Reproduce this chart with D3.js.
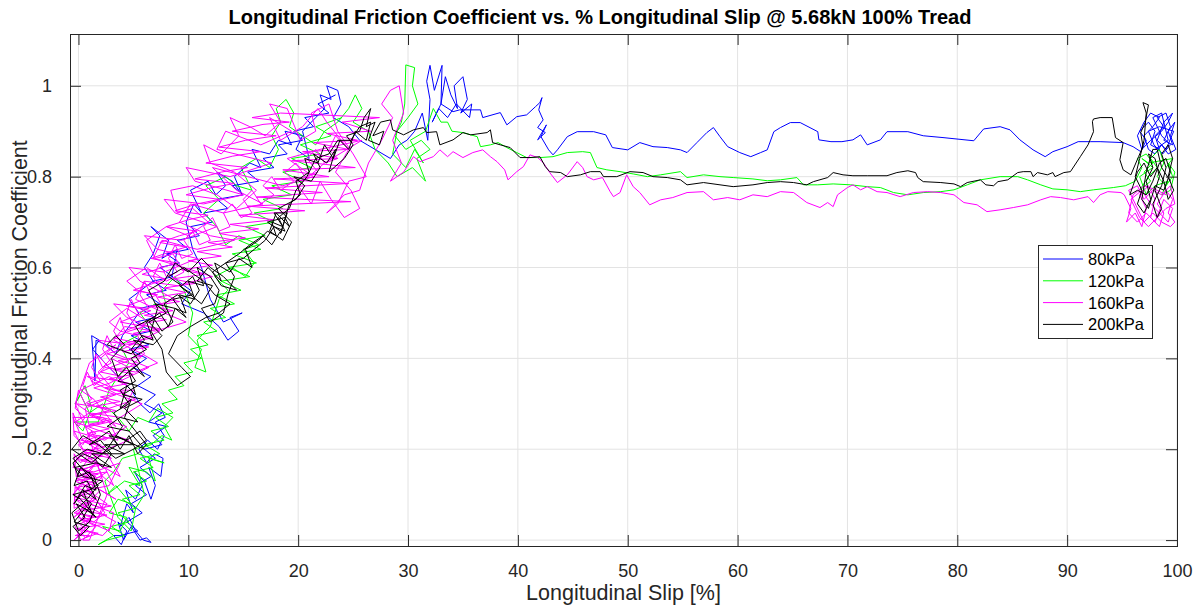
<!DOCTYPE html>
<html>
<head>
<meta charset="utf-8">
<script src="https://cdn.jsdelivr.net/npm/d3@7"></script>
<style>
  body { margin: 0; background: #fff; }
  text { font-family: "Liberation Sans", Arial, sans-serif; }
</style>
</head>
<body>
<div id="app"></div>
<script>
// legend / series
const seriesNames = ["80kPa", "120kPa", "160kPa", "200kPa"];
const seriesColors = ["#0000ff", "#00ff00", "#ff00ff", "#000000"];
const xTickValues = [0, 10, 20, 30, 40, 50, 60, 70, 80, 90, 100];
const yTickValues = [0, 0.2, 0.4, 0.6, 0.8, 1];

// [slip %, friction coefficient]
const kPa80 = [
  [23.4,0.98],[21.8,0.96],[22.8,0.94],[20.6,0.93],[21.4,0.91],[19.6,0.9],[20.4,0.88],[18.2,0.87],[19.0,0.85],[16.8,0.84],
  [17.8,0.82],[15.4,0.81],[16.4,0.79],[14.0,0.78],[15.0,0.76],[12.6,0.75],[13.6,0.73],[11.4,0.72],[12.2,0.7],[10.2,0.69],
  [11.0,0.67],[9.0,0.66],[10.0,0.64],[8.0,0.63],[9.2,0.61],[7.4,0.6],[8.6,0.58],[6.8,0.57],[8.0,0.55],[6.2,0.54],
  [7.4,0.52],[5.6,0.51],[7.0,0.49],[5.2,0.48],[6.6,0.46],[4.8,0.45],[6.4,0.43],[4.6,0.42],[6.2,0.4],[5.0,0.38],
  [6.6,0.36],[5.4,0.34],[7.0,0.32],[6.0,0.3],[7.6,0.28],[6.4,0.26],[8.0,0.25],[6.8,0.23],[7.6,0.21],[6.0,0.2],
  [7.0,0.18],[5.6,0.16],[6.6,0.14],[5.2,0.12],[6.2,0.1],[4.8,0.08],[5.8,0.06],[4.4,0.04],[5.4,0.02],[3.8,0.01],
  [3.2,0.01],[3.9,-0.01],[4.4,0.02],[3.6,0.04],[4.1,0.0],[4.8,0.03],[5.6,0.0],[6.2,0.005],[6.6,-0.005],[5.9,0.0],
  [5.2,0.02],[4.6,0.05],[3.8,0.03],[4.4,0.08],[5.0,0.06],[4.3,0.11],[5.2,0.09],[5.8,0.12],[5.1,0.15],[6.0,0.13],
  [6.6,0.09],[7.0,0.12],[6.4,0.16],[7.5,0.14],[7.7,0.18],[6.9,0.19],[6.2,0.17],[5.5,0.2],[6.3,0.22],[7.2,0.2],
  [7.8,0.23],[7.0,0.26],[7.9,0.27],[7.3,0.3],[6.5,0.28],[5.6,0.3],[4.8,0.33],[3.6,0.36],[2.4,0.39],[1.3,0.42],
  [1.9,0.44],[1.2,0.45],[1.5,0.35],[1.6,0.44],[2.5,0.43],[3.4,0.41],[4.0,0.45],[5.5,0.5],[4.6,0.53],[6.8,0.57],
  [6.0,0.6],[6.8,0.63],[7.4,0.67],[6.6,0.69],[8.2,0.66],[7.6,0.62],[9.0,0.64],[8.5,0.58],[10.2,0.55],[9.4,0.52],
  [11.4,0.5],[12.8,0.47],[13.6,0.44],[14.6,0.46],[13.8,0.49],[14.9,0.5],[13.2,0.48],[12.0,0.53],[11.2,0.6],[10.4,0.64],
  [9.8,0.7],[10.5,0.74],[11.2,0.72],[10.2,0.77],[11.8,0.79],[12.5,0.76],[13.4,0.78],[12.6,0.81],[14.0,0.79],[14.9,0.76],
  [14.2,0.8],[15.6,0.83],[16.6,0.82],[15.8,0.86],[17.4,0.85],[18.2,0.88],[19.4,0.87],[18.8,0.9],[20.4,0.89],[19.8,0.86],
  [21.0,0.84],[20.4,0.9],[21.6,0.93],[22.4,0.95],[22.0,0.98],[23.0,0.97],[22.6,1.0],[23.6,0.99],[23.9,0.96],[23.2,0.93],
  [24.6,0.91],[25.6,0.88],[27.0,0.86],[28.4,0.84],[29.2,0.87],[29.9,0.88],[30.6,0.9],[31.3,0.94],[31.8,0.88],[32.0,0.97],
  [31.7,1.01],[32.0,1.045],[32.4,0.99],[33.1,1.045],[33.0,0.96],[33.4,1.02],[33.9,0.98],[34.5,0.95],[34.2,1.0],[35.0,1.02],
  [35.4,0.97],[34.8,0.94],[35.8,0.96],[35.6,0.93],[34.4,0.96],[33.6,0.93],[32.8,0.95],[32.2,0.92],[33.0,0.96],[34.1,0.943],
  [34.7,0.947],[36.6,0.947],[36.8,0.93],[38.4,0.941],[39.0,0.914],[39.9,0.932],[40.8,0.936],[41.6,0.954],[42.0,0.963],[42.2,0.974],
  [41.9,0.947],[42.3,0.925],[41.8,0.908],[42.5,0.897],[41.8,0.881],[42.6,0.914],[42.1,0.888],[42.8,0.859],[43.2,0.848],[43.6,0.859],
  [44.5,0.888],[45.4,0.899],[46.9,0.899],[48.0,0.892],[48.6,0.864],[50.0,0.859],[51.1,0.875],[52.3,0.866],[53.6,0.864],[54.8,0.859],
  [55.4,0.853],[56.3,0.875],[57.2,0.897],[57.8,0.908],[58.4,0.888],[59.1,0.866],[60.2,0.853],[61.2,0.844],[62.1,0.853],[62.7,0.859],
  [63.3,0.899],[63.9,0.908],[64.8,0.919],[65.7,0.919],[67.3,0.899],[67.4,0.881],[68.5,0.877],[69.5,0.877],[70.5,0.881],[71.2,0.892],
  [71.8,0.87],[73.0,0.881],[73.6,0.899],[75.5,0.899],[76.9,0.89],[78.7,0.886],[81.5,0.879],[82.4,0.905],[83.9,0.91],[84.8,0.903],
  [85.7,0.881],[86.9,0.859],[88.0,0.844],[88.7,0.855],[90.0,0.866],[91.0,0.877],[92.1,0.877],[93.0,0.877],[95.1,0.875],[96.0,0.866],
  [96.7,0.855],[97.2,0.88],[96.6,0.9],[97.4,0.92],[98.0,0.9],[97.6,0.87],[98.4,0.86],[98.0,0.89],[98.8,0.91],[98.2,0.93],
  [99.0,0.94],[99.4,0.91],[98.8,0.88],[99.6,0.87],[99.2,0.9],[99.8,0.92],[99.4,0.89],[99.9,0.86],[99.2,0.85],[98.6,0.87],
  [98.0,0.85],[97.4,0.86],[97.0,0.89],[97.8,0.91],[98.4,0.93],[97.6,0.94],[97.0,0.92],[96.4,0.89],[96.8,0.86],[97.6,0.88],
  [98.6,0.9],[99.2,0.92],[99.6,0.94],[98.8,0.92],[98.2,0.88],[99.0,0.86],[99.7,0.9],[98.4,0.91],[97.4,0.9],[97.9,0.87],
  [98.7,0.85],[99.4,0.87],[98.6,0.89],[97.8,0.93],[98.6,0.94],[99.2,0.88],[98.0,0.86]
];

const kPa120 = [
  [24.0,0.93],[21.6,0.91],[23.0,0.89],[20.2,0.87],[22.0,0.85],[19.4,0.84],[21.2,0.82],[18.6,0.81],[20.4,0.79],[17.6,0.78],
  [19.4,0.76],[16.8,0.75],[18.6,0.73],[16.0,0.72],[17.8,0.7],[15.2,0.69],[17.0,0.67],[14.6,0.66],[16.6,0.64],[14.0,0.63],
  [16.2,0.61],[13.6,0.6],[15.6,0.58],[13.0,0.57],[14.8,0.55],[12.6,0.54],[14.2,0.52],[12.0,0.51],[13.4,0.49],[11.4,0.48],
  [12.6,0.46],[10.8,0.45],[11.8,0.43],[10.2,0.42],[11.2,0.4],[9.6,0.39],[10.4,0.37],[8.8,0.36],[9.6,0.34],[8.2,0.33],
  [9.0,0.31],[7.6,0.3],[8.6,0.28],[7.0,0.27],[8.2,0.25],[6.6,0.24],[7.8,0.22],[6.0,0.21],[7.4,0.19],[5.6,0.18],
  [6.8,0.16],[5.0,0.15],[6.2,0.13],[4.6,0.12],[5.6,0.1],[4.0,0.09],[5.2,0.07],[3.6,0.06],[4.6,0.04],[3.0,0.03],
  [4.2,0.01],[2.6,0.0],
  [1.8,-0.01],[3.2,0.01],[2.2,0.03],[3.8,0.02],[4.4,0.05],[2.8,0.06],[3.6,0.09],[4.8,0.08],[3.4,0.12],[2.6,0.1],
  [4.2,0.13],[5.6,0.12],[4.6,0.16],[6.2,0.15],[7.0,0.13],[6.4,0.18],[7.8,0.17],[5.4,0.19],[4.0,0.18],[3.2,0.15],
  [2.4,0.13],[3.6,0.05],[4.8,0.02],[5.2,0.07],[6.0,0.1],[5.0,0.2],[6.6,0.21],[7.6,0.23],[8.5,0.22],[7.8,0.25],
  [8.6,0.27],[7.2,0.29],[6.4,0.26],[5.4,0.27],[4.6,0.24],[3.6,0.27],[2.2,0.3],[1.0,0.28],[0.2,0.32],[-0.3,0.3],
  [0.6,0.34],[1.2,0.29],[0.4,0.24],[-0.4,0.26],[1.8,0.26],[2.8,0.33],[3.6,0.36],[4.6,0.39],[3.8,0.43],[5.4,0.45],
  [6.2,0.48],[5.6,0.5],[7.0,0.52],[8.2,0.5],[7.6,0.55],[8.8,0.58],[9.6,0.55],[10.4,0.5],[10.0,0.45],[11.2,0.42],
  [10.6,0.38],[11.6,0.37],[10.8,0.44],[12.0,0.47],[12.8,0.53],[13.6,0.55],[12.4,0.58],[14.0,0.6],[15.2,0.58],[16.0,0.61],
  [15.0,0.64],[16.4,0.65],[14.6,0.67],[13.4,0.65],[12.6,0.69],[11.4,0.72],[12.8,0.75],[11.6,0.78],[13.4,0.8],[14.4,0.78],
  [15.8,0.77],[14.8,0.82],[16.2,0.84],[17.4,0.82],[18.2,0.86],[17.6,0.89],[18.4,0.92],[18.0,0.95],[18.9,0.97],[19.6,0.94],
  [19.2,0.91],[20.4,0.89],[21.6,0.87],[22.4,0.9],[23.6,0.92],[24.6,0.95],[25.2,0.98],[25.8,0.95],[25.0,0.92],[26.4,0.9],
  [27.0,0.86],[28.2,0.83],[29.0,0.8],[30.4,0.82],[31.6,0.79],[30.8,0.84],[32.0,0.86],[31.2,0.88],[29.8,0.86],[28.8,0.89],
  [29.4,0.92],[29.7,0.96],[29.8,1.046],[30.6,1.04],[30.4,1.0],[30.9,0.96],[30.0,0.93],[29.0,0.9],[28.6,0.85],[29.8,0.82],
  [30.6,0.86],[31.4,0.83],[30.2,0.88],[31.6,0.9],[32.3,0.95],[33.0,0.92],[33.6,0.92],[34.0,0.9],[35.0,0.897],[36.3,0.888],
  [36.6,0.866],[37.5,0.87],[38.2,0.875],[39.0,0.864],[39.9,0.853],[40.8,0.842],[42.0,0.842],[43.2,0.844],[44.5,0.853],[45.9,0.855],
  [46.6,0.853],[47.2,0.82],[48.1,0.815],[49.3,0.811],[50.5,0.806],[51.8,0.8],[53.0,0.804],[54.8,0.811],[55.4,0.798],[56.9,0.804],
  [58.4,0.8],[59.6,0.798],[61.4,0.795],[62.7,0.791],[63.9,0.793],[65.4,0.798],[66.0,0.782],[67.3,0.782],[68.7,0.784],[70.3,0.782],
  [71.8,0.778],[73.0,0.776],[74.2,0.765],[75.5,0.76],[76.9,0.765],[78.5,0.767],[79.7,0.771],[80.9,0.782],[82.1,0.793],[83.9,0.8],
  [85.5,0.8],[86.4,0.793],[87.6,0.782],[88.7,0.773],[90.0,0.771],[91.2,0.767],[92.4,0.771],[94.2,0.776],[95.3,0.78],[96.2,0.79],
  [96.8,0.82],[96.4,0.84],[97.2,0.85],[97.8,0.83],[97.0,0.81],[97.6,0.79],[96.6,0.77],[97.4,0.8],[98.2,0.82],[97.6,0.84],
  [98.4,0.86],[98.8,0.83],[98.2,0.8],[99.0,0.78],[99.6,0.8],[99.2,0.83],[99.8,0.81],[99.4,0.77],[98.6,0.76],[99.2,0.79],
  [98.0,0.78],[97.2,0.76],[96.6,0.8],[97.8,0.82],[96.8,0.84],[97.4,0.83],[99.6,0.84],[99.0,0.82]
];

const kPa160 = [
  [24.2,0.87],[23.4,0.89],[22.8,0.86],[23.6,0.84],[22.4,0.83],[21.6,0.86],[20.8,0.84],[21.8,0.81],[20.6,0.8],[19.8,0.83],
  [18.8,0.81],[19.6,0.79],[18.4,0.77],[17.6,0.8],[16.8,0.78],[17.8,0.76],[16.6,0.74],[15.8,0.77],[15.0,0.75],[15.8,0.72],
  [14.8,0.71],[14.0,0.74],[13.2,0.72],[13.8,0.69],[12.8,0.68],[12.2,0.71],[11.4,0.69],[12.0,0.66],[11.0,0.65],[10.4,0.68],
  [9.6,0.66],[10.4,0.63],[9.4,0.62],[8.8,0.65],[8.2,0.62],[9.0,0.59],[8.0,0.58],[7.4,0.61],[6.8,0.58],[7.6,0.55],
  [6.6,0.54],[6.0,0.57],[5.6,0.54],[6.4,0.51],[5.4,0.5],[4.8,0.53],[4.4,0.5],[5.2,0.47],[4.2,0.46],[3.8,0.49],
  [3.2,0.46],[4.0,0.43],[3.2,0.42],[2.6,0.45],[2.2,0.42],[3.0,0.39],[2.2,0.38],[1.6,0.41],[1.2,0.38],[2.0,0.35],
  [1.4,0.34],[0.8,0.37],[0.4,0.34],[1.2,0.31],[0.6,0.3],[0.0,0.33],[-0.3,0.29],[0.6,0.27],[0.0,0.25],[-0.5,0.28],
  [-0.4,0.23],[0.4,0.21],[1.2,0.24],[1.8,0.21],[1.0,0.19],[0.2,0.17],[-0.4,0.19],[-0.2,0.14],[0.8,0.15],[1.6,0.17],
  [2.2,0.14],[1.4,0.12],[0.4,0.1],[-0.3,0.12],[-0.4,0.07],[0.6,0.08],[1.6,0.09],[2.4,0.06],[1.4,0.04],[0.4,0.05],
  [-0.3,0.03],[0.2,0.0],[1.0,0.01],
  [-0.3,0.01],[0.9,0.02],[0.1,0.035],[1.3,0.05],[-0.4,0.06],[0.7,0.075],[1.5,0.09],[0.0,0.1],[1.1,0.115],[-0.3,0.13],
  [1.6,0.14],[0.5,0.155],[1.8,0.17],[-0.2,0.18],[1.2,0.195],[2.0,0.21],[0.2,0.22],[1.6,0.235],[0.6,0.25],[2.4,0.26],
  [1.0,0.275],[2.8,0.285],[0.8,0.3],[2.2,0.31],[3.4,0.32],[1.4,0.335],[2.8,0.345],[4.0,0.36],[2.0,0.37],[3.4,0.385],
  [4.6,0.395],[2.6,0.41],[4.0,0.42],[5.2,0.435],[3.2,0.445],[4.6,0.46],[6.0,0.47],[3.8,0.48],[5.4,0.495],[6.6,0.505],
  [4.4,0.515],[6.0,0.53],[7.2,0.54],[5.0,0.55],[6.8,0.565],[8.0,0.575],[5.8,0.585],[7.6,0.6],[9.0,0.61],[6.6,0.62],
  [8.4,0.635],[9.8,0.645],[7.4,0.655],[9.2,0.67],[10.8,0.68],[8.0,0.69],[10.0,0.705],[11.8,0.715],[8.8,0.725],[10.8,0.74],
  [12.8,0.75],[9.8,0.76],[12.0,0.775],[14.2,0.785],[10.6,0.795],[13.0,0.81],[15.4,0.82],[11.6,0.83],[14.0,0.845],[16.6,0.855],
  [12.8,0.865],[15.2,0.88],[18.0,0.89],[14.0,0.9],[16.8,0.915],[19.2,0.92],[15.8,0.93],[18.4,0.94],
  [27.4,0.93],[24.0,0.92],[26.6,0.9],[22.6,0.895],[25.4,0.88],[21.4,0.875],[24.6,0.86],[20.4,0.855],[23.6,0.84],[19.4,0.835],
  [25.2,0.82],[18.6,0.815],[22.8,0.8],[17.8,0.795],[24.6,0.785],[17.0,0.775],[22.2,0.765],[16.2,0.755],[24.8,0.745],[15.4,0.735],
  [20.6,0.725],[14.6,0.715],[17.8,0.705],[13.8,0.695],[16.4,0.685],[12.8,0.675],[15.2,0.665],[11.8,0.655],[14.0,0.645],[10.8,0.635],
  [13.0,0.625],[10.0,0.615],[12.2,0.605],[9.4,0.595],[11.4,0.585],[8.6,0.575],[10.6,0.565],[7.8,0.555],[9.8,0.545],[7.2,0.535],
  [9.2,0.525],[6.6,0.515],[8.6,0.505],[6.0,0.495],[8.0,0.485],[5.4,0.475],[7.4,0.465],[5.0,0.455],[6.8,0.445],[4.4,0.435],
  [6.4,0.425],[4.0,0.415],[5.8,0.405],[3.6,0.395],[5.4,0.385],[3.2,0.375],[5.0,0.365],[2.8,0.355],[4.6,0.345],[2.4,0.335],
  [4.2,0.325],[2.0,0.315],[3.8,0.305],[1.6,0.295],[3.4,0.285],[1.2,0.275],[3.0,0.265],[1.0,0.255],[2.8,0.245],[0.8,0.235],
  [2.6,0.225],[0.6,0.215],[2.4,0.205],[0.4,0.195],[2.2,0.185],[0.2,0.175],[2.0,0.165],[0.0,0.155],[1.8,0.145],[-0.2,0.135],
  [1.6,0.125],[-0.3,0.115],[1.4,0.105],[-0.4,0.095],[1.2,0.085],[3.0,0.075],[0.4,0.065],[2.6,0.055],[0.2,0.045],[2.4,0.035],
  [-0.2,0.025],[1.8,0.015],[0.6,0.005],
  [0.2,0.02],[1.4,0.06],[-0.3,0.09],[2.2,0.07],[0.6,0.12],[2.6,0.15],[-0.2,0.14],[1.2,0.19],[3.0,0.18],[0.4,0.22],
  [-0.5,0.27],[2.2,0.27],[3.4,0.25],[1.4,0.31],[0.2,0.33],[2.8,0.36],[4.4,0.34],[2.0,0.4],[3.4,0.43],[1.0,0.39],
  [-0.3,0.3],[0.8,0.24],[2.6,0.1],[1.0,0.0],
  [0.4,0.0],[1.6,0.03],[0.0,0.05],[2.8,0.02],[3.2,0.06],[1.0,0.08],[-0.4,0.05],[2.0,0.11],[3.4,0.09],[0.6,0.13],
  [-0.5,0.1],[1.6,0.17],[3.8,0.14],[2.6,0.19],[0.4,0.2],[-0.4,0.24],[2.4,0.22],[4.4,0.25],[1.6,0.27],[-0.2,0.3],
  [2.8,0.29],[5.2,0.31],[2.6,0.34],[0.8,0.36],[3.8,0.35],[6.4,0.38],[3.4,0.41],[1.8,0.44],[4.8,0.43],[7.4,0.46],
  [4.4,0.49],[3.2,0.52],[6.2,0.51],[8.8,0.53],[5.6,0.57],[4.6,0.6],[7.8,0.59],[10.8,0.62],[7.2,0.64],[6.0,0.67],
  [9.4,0.66],[12.6,0.69],[8.8,0.72],[7.8,0.75],[11.4,0.74],[15.0,0.76],[10.6,0.79],[9.8,0.82],[13.8,0.8],[17.6,0.83],
  [12.6,0.86],[13.4,0.9],[16.6,0.87],[19.4,0.9],[17.4,0.93],[18.4,0.88],[20.4,0.91],[21.8,0.95],[22.6,0.92],[24.6,0.86],
  [23.4,0.81],[24.8,0.77],[25.6,0.73],[24.2,0.71],[23.0,0.75],[22.0,0.79],[21.2,0.74],[20.0,0.78],[22.4,0.83],[25.8,0.88],
  [22.0,0.86],[19.0,0.84],[21.4,0.8],[18.6,0.78],[15.4,0.8],[12.2,0.82],[14.4,0.77],[16.8,0.74],[13.2,0.72],[10.2,0.74],
  [9.2,0.7],[12.0,0.67],[14.2,0.66],[10.8,0.64],[7.6,0.66],[6.8,0.62],[9.6,0.6],[12.2,0.58],[9.0,0.56],[6.0,0.57],
  [5.2,0.53],[7.8,0.5],[9.8,0.48],[7.0,0.46],[4.2,0.47],[3.2,0.44],[5.8,0.41],[7.2,0.39],[5.2,0.37],[2.4,0.38],
  [1.2,0.35],[3.6,0.32],[5.8,0.3],[3.8,0.27],[1.0,0.28],[-0.3,0.26],[2.0,0.24],[4.6,0.22],[2.6,0.2],[0.2,0.19],
  [-0.5,0.16],[1.4,0.15],[3.8,0.17],[2.8,0.12],[0.8,0.11],[-0.5,0.08],[1.2,0.07],[3.4,0.04],[2.2,0.01],[0.6,0.02],
  [-0.4,0.0],[0.8,0.03],[-0.2,0.06],[1.8,0.05],[2.6,0.08],[1.4,0.1],[0.2,0.13],[2.2,0.14],[3.2,0.12],[2.4,0.16],
  [1.0,0.18],[0.0,0.21],[1.8,0.23],[3.6,0.22],[2.8,0.26],[1.0,0.25],[0.6,0.29],[2.4,0.31],[4.2,0.29],[5.0,0.33],
  [3.2,0.33],[1.8,0.37],[3.0,0.4],[4.6,0.38],[6.0,0.41],[5.4,0.45],[3.8,0.46],[2.8,0.48],[4.4,0.51],[6.4,0.48],
  [8.0,0.5],[7.0,0.54],[5.4,0.55],[4.4,0.57],[6.2,0.6],[8.0,0.57],[9.6,0.59],[8.6,0.63],[7.0,0.62],[6.2,0.66],
  [8.0,0.69],[10.0,0.67],[11.8,0.7],[10.4,0.73],[9.0,0.72],[8.4,0.77],[10.4,0.78],[12.6,0.76],[14.4,0.73],[16.2,0.77],
  [14.2,0.81],[12.0,0.83],[11.4,0.87],[13.0,0.85],[14.6,0.89],[13.8,0.93],[15.6,0.91],[17.0,0.89],[18.4,0.92],[17.4,0.96],
  [19.0,0.95],[20.2,0.88],[21.6,0.9],[21.2,0.94],[22.8,0.96],[23.6,0.9],[25.0,0.85],[26.2,0.8],[24.6,0.79],[23.6,0.74],
  [22.6,0.72],[24.2,0.76],[25.6,0.77],[26.4,0.83],[27.6,0.88],[28.6,0.93],[27.6,0.96],[28.4,0.99],[29.2,1.0],[29.6,0.94],
  [28.6,0.88],[29.4,0.83],[28.4,0.79],[29.6,0.81],[30.5,0.844],[31.1,0.833],[32.3,0.844],[32.9,0.859],[33.6,0.844],[34.1,0.855],
  [35.0,0.842],[35.9,0.853],[36.8,0.859],[37.5,0.844],[38.1,0.833],[38.8,0.815],[39.1,0.793],[39.9,0.811],[40.5,0.822],[41.1,0.848],
  [41.8,0.842],[42.3,0.831],[42.9,0.809],[43.6,0.787],[44.5,0.804],[45.4,0.833],[45.9,0.82],[46.3,0.8],[46.9,0.793],[47.7,0.798],
  [48.4,0.767],[48.7,0.756],[49.3,0.765],[49.9,0.804],[50.5,0.778],[51.1,0.765],[52.0,0.738],[53.0,0.749],[54.1,0.754],[55.4,0.765],
  [56.9,0.767],[57.8,0.749],[59.1,0.754],[60.2,0.749],[61.4,0.76],[62.7,0.756],[63.9,0.767],[65.1,0.765],[66.3,0.743],[67.5,0.732],
  [68.2,0.743],[68.7,0.734],[69.1,0.76],[70.0,0.776],[70.5,0.782],[71.2,0.771],[71.8,0.778],[72.7,0.767],[73.6,0.765],[74.8,0.756],
  [76.0,0.765],[77.3,0.767],[78.5,0.765],[79.7,0.76],[80.6,0.743],[81.8,0.738],[82.7,0.723],[83.9,0.727],[85.1,0.732],[86.4,0.738],
  [87.6,0.749],[88.5,0.756],[89.4,0.754],[90.6,0.749],[91.9,0.756],[92.4,0.743],[93.0,0.76],[93.7,0.767],[94.9,0.765],[95.2,0.76],
  [95.8,0.73],[95.4,0.7],[96.2,0.72],[96.8,0.69],[97.2,0.73],[96.6,0.76],[97.4,0.78],[98.0,0.75],[97.6,0.71],[98.4,0.69],
  [98.8,0.72],[98.2,0.74],[99.0,0.77],[99.6,0.75],[99.2,0.72],[99.8,0.7],[99.4,0.69],[98.6,0.7],[97.8,0.72],[97.0,0.7],
  [96.2,0.74],[95.6,0.77],[96.4,0.78],[97.0,0.75],[97.8,0.77],[98.6,0.76],[99.4,0.78],[99.8,0.74],[99.0,0.73],[98.2,0.71],
  [97.4,0.69],[96.6,0.71],[95.8,0.75],[96.8,0.77],[97.6,0.74],[98.4,0.72],[99.2,0.7],[99.6,0.73],[98.8,0.75],[98.0,0.7],
  [97.2,0.72],[96.4,0.7],[95.6,0.72],[96.0,0.76],[97.0,0.78],[98.2,0.77],[99.0,0.76]
];

const kPa200 = [
  [0.4,0.05],[1.2,0.08],[0.2,0.1],[-0.4,0.08],[0.6,0.12],[1.6,0.11],[1.0,0.15],[0.0,0.14],[-0.5,0.17],[0.4,0.19],
  [1.4,0.18],[2.2,0.16],[3.0,0.19],[2.0,0.22],[1.0,0.21],[2.8,0.24],[3.8,0.2],[4.6,0.23],[5.4,0.19],[6.2,0.21],
  [5.2,0.24],[4.2,0.27],[4.8,0.31],[3.8,0.29],[4.4,0.34],[5.2,0.32],[4.6,0.37],[5.6,0.39],[4.8,0.42],[5.8,0.45],
  [6.8,0.44],[6.2,0.48],[7.4,0.5],[8.2,0.47],[8.8,0.51],[9.8,0.5],[9.2,0.54],[10.6,0.53],[10.0,0.57],[11.4,0.56],
  [10.8,0.6],[12.0,0.58],[12.8,0.55],[12.4,0.52],[11.2,0.51],[12.0,0.48],[13.2,0.5],[13.6,0.54],[14.2,0.58],[13.4,0.61],
  [15.0,0.62],[16.0,0.64],[17.0,0.66],[17.8,0.69],[18.8,0.68],[18.2,0.71],[19.2,0.73],[19.8,0.77],[20.8,0.8],[21.6,0.84],
  [22.8,0.85],[23.6,0.88],[24.8,0.88],[25.6,0.91],
  [26.6,0.92],[26.2,0.88],[25.2,0.9],[24.6,0.86],[23.8,0.88],[23.2,0.84],[22.4,0.87],[21.8,0.83],[20.6,0.84],[21.0,0.81],
  [19.8,0.79],[20.2,0.76],[19.2,0.74],[18.4,0.675],[19.0,0.72],[17.8,0.72],[18.6,0.69],[17.6,0.7],[18.0,0.67],[17.2,0.68],
  [16.4,0.66],[15.2,0.64],[15.8,0.6],[14.6,0.62],[13.8,0.59],[12.4,0.61],[13.0,0.57],[11.8,0.6],[10.8,0.57],[12.2,0.56],
  [11.2,0.52],[9.2,0.56],[10.4,0.54],[8.6,0.53],[9.8,0.49],[8.8,0.51],[7.0,0.52],[8.0,0.5],[6.4,0.48],[7.6,0.45],
  [6.8,0.43],[5.0,0.44],[6.2,0.42],[4.8,0.4],[6.0,0.36],[5.0,0.38],[3.6,0.35],[5.4,0.34],[4.0,0.32],[5.8,0.31],
  [4.2,0.29],[5.4,0.26],[3.8,0.27],[2.6,0.25],[4.6,0.24],[6.0,0.2],[3.4,0.23],[5.0,0.21],[2.4,0.21],[4.2,0.19],
  [1.2,0.19],[3.0,0.16],[1.6,0.17],[-0.3,0.16],[0.4,0.14],[2.2,0.13],[1.0,0.11],[-0.5,0.1],[0.2,0.09],[1.6,0.05],
  [0.6,0.07],[-0.4,0.04],[1.0,0.03],[0.2,0.01],
  [-0.5,0.03],[0.6,0.05],[-0.2,0.08],[1.2,0.06],[0.4,0.11],[1.6,0.09],[0.8,0.13],[-0.4,0.12],[0.2,0.16],[1.4,0.14],
  [2.0,0.1],[1.0,0.04],[0.0,0.02],[-0.6,0.06],[0.8,0.09],[1.8,0.12],[0.6,0.15],[-0.5,0.18],[0.8,0.2],[2.2,0.19],
  [3.6,0.21],[2.8,0.23],[4.4,0.22],[5.6,0.24],[6.2,0.22],[5.0,0.2],[3.4,0.18],[1.8,0.21],[0.4,0.23],[-0.6,0.2],
  [1.2,0.17],[2.6,0.2],[4.0,0.25],[3.2,0.28],[4.6,0.3],[3.8,0.33],[5.2,0.35],[4.4,0.38],[3.6,0.36],[3.0,0.4],
  [4.2,0.43],[3.4,0.45],[2.6,0.43],[4.8,0.41],[6.0,0.44],[5.2,0.47],[6.8,0.49],[7.6,0.46],[8.6,0.48],[7.8,0.52],
  [9.0,0.54],[10.2,0.52],[11.0,0.55],[10.4,0.58],[9.4,0.56],[8.2,0.58],[9.6,0.6],[11.4,0.57],[12.4,0.54],[13.8,0.52],
  [12.8,0.5],[11.6,0.49],[10.2,0.47],[9.0,0.45],[8.2,0.41],[9.4,0.38],[10.2,0.36],[9.0,0.34],[8.0,0.37],[7.6,0.42],
  [6.6,0.46],[7.2,0.51],[6.4,0.55],[7.8,0.57],[8.8,0.61],[10.0,0.59],[11.2,0.62],[12.0,0.6],[13.2,0.58],[14.4,0.55],
  [13.0,0.56],[12.2,0.59],[14.6,0.63],[15.6,0.65],[16.8,0.67],[17.6,0.65],[18.4,0.68],[17.2,0.7],[18.8,0.71],[19.2,0.69],
  [18.0,0.72],[17.4,0.68],[18.6,0.66],[19.4,0.7],[18.2,0.73],[19.8,0.75],[20.6,0.78],[19.6,0.8],[21.2,0.79],[22.0,0.82],
  [21.4,0.85],[22.6,0.83],[23.4,0.86],[22.8,0.81],[24.2,0.84],[25.0,0.87],[24.4,0.89],[25.6,0.9],[26.0,0.93],[26.6,0.95],
  [26.2,0.91],[27.0,0.92],[26.4,0.88],[27.4,0.87],[27.8,0.9],[26.8,0.89],[27.5,0.92],[28.4,0.925],[28.6,0.903],[29.6,0.892],
  [30.5,0.903],[31.4,0.908],[31.7,0.897],[32.6,0.899],[32.9,0.87],[34.1,0.881],[35.0,0.897],[35.7,0.892],[37.2,0.897],[37.5,0.903],
  [37.7,0.875],[38.4,0.87],[39.3,0.864],[40.2,0.842],[41.1,0.842],[42.0,0.844],[42.5,0.822],[42.9,0.811],[43.9,0.809],[44.5,0.8],
  [45.7,0.804],[46.6,0.811],[47.5,0.811],[47.8,0.8],[49.0,0.8],[50.2,0.811],[51.4,0.809],[52.3,0.8],[53.6,0.798],[54.8,0.793],
  [55.4,0.782],[56.9,0.787],[58.4,0.782],[59.6,0.778],[61.4,0.782],[62.7,0.787],[63.9,0.789],[65.1,0.787],[66.3,0.782],[66.9,0.789],
  [68.2,0.798],[68.7,0.809],[69.6,0.804],[70.5,0.802],[71.8,0.802],[73.6,0.802],[74.5,0.809],[75.5,0.813],[76.2,0.809],[76.4,0.798],
  [76.9,0.789],[78.5,0.787],[79.7,0.784],[80.3,0.778],[80.9,0.787],[82.1,0.793],[82.6,0.782],[83.3,0.78],[83.7,0.789],[84.6,0.793],
  [85.5,0.809],[86.0,0.811],[86.7,0.811],[86.9,0.8],[87.3,0.809],[88.2,0.804],[88.7,0.809],[88.9,0.8],[89.7,0.809],[90.3,0.811],
  [91.2,0.844],[91.9,0.87],[92.4,0.899],[92.3,0.921],[92.4,0.927],[93.0,0.93],[94.1,0.93],[94.4,0.886],[95.1,0.875],[94.8,0.837],
  [95.1,0.815],[95.8,0.804],[96.5,0.844],[96.9,0.866],[96.7,0.897],[97.1,0.919],[97.4,0.958],[96.9,0.963],[97.2,0.94],[97.0,0.88],
  [96.6,0.84],[96.2,0.8],[96.8,0.77],[96.4,0.74],[97.0,0.72],[97.6,0.75],[97.2,0.79],[97.8,0.82],[97.4,0.85],[98.0,0.84],
  [98.4,0.8],[98.0,0.77],[98.6,0.73],[98.2,0.71],[97.8,0.74],[98.6,0.78],[99.0,0.82],[98.6,0.85],[99.2,0.87],[99.6,0.84],
  [99.2,0.8],[99.7,0.77],[99.2,0.75],[98.8,0.79],[98.2,0.82],[97.6,0.8],[97.0,0.83],[96.4,0.81],[96.0,0.78],[95.7,0.76],
  [96.4,0.77],[97.2,0.76],[97.8,0.79],[98.4,0.83],[99.0,0.84],[99.4,0.81],[98.8,0.77],[98.0,0.78],[97.4,0.73],[96.8,0.75],
  [97.2,0.81],[97.8,0.86],[98.2,0.86],[98.6,0.82],[99.4,0.79]
];

const allSeries = [kPa80, kPa120, kPa160, kPa200];

const width = 1199;
const height = 607;
const margin = { top: 34, right: 22, bottom: 61, left: 70 };
const axisColor = "#262626";

const xScale = d3.scaleLinear()
  .domain([-0.77, 100])
  .range([margin.left, width - margin.right]);

const yScale = d3.scaleLinear()
  .domain([-0.013, 1.114])
  .range([height - margin.bottom, margin.top]);

const svg = d3.select("#app")
  .append("svg")
  .attr("width", width)
  .attr("height", height);

const plotW = width - margin.left - margin.right;
const plotH = height - margin.top - margin.bottom;

svg.append("defs").append("clipPath")
  .attr("id", "plot-clip")
  .append("rect")
  .attr("x", margin.left)
  .attr("y", margin.top)
  .attr("width", plotW)
  .attr("height", plotH);

// grid
svg.append("g")
  .selectAll("line")
  .data(xTickValues)
  .join("line")
  .attr("x1", d => xScale(d)).attr("x2", d => xScale(d))
  .attr("y1", margin.top).attr("y2", height - margin.bottom)
  .attr("stroke", "#e3e3e3");

svg.append("g")
  .selectAll("line")
  .data(yTickValues)
  .join("line")
  .attr("x1", margin.left).attr("x2", width - margin.right)
  .attr("y1", d => yScale(d)).attr("y2", d => yScale(d))
  .attr("stroke", "#e3e3e3");

// data lines
const line = d3.line()
  .x(d => xScale(d[0]))
  .y(d => yScale(d[1]));

svg.append("g")
  .attr("clip-path", "url(#plot-clip)")
  .selectAll("path")
  .data(allSeries)
  .join("path")
  .attr("d", line)
  .attr("fill", "none")
  .attr("stroke", (d, i) => seriesColors[i])
  .attr("stroke-width", 1)
  .attr("stroke-linejoin", "round");

// axes (ticks inside, box on)
const tickLen = 11;
const fmtY = d3.format("~g");

const xAxisBottom = d3.axisBottom(xScale).tickValues(xTickValues).tickSizeInner(-tickLen).tickSizeOuter(0).tickPadding(18);
const xAxisTop = d3.axisTop(xScale).tickValues(xTickValues).tickSizeInner(-tickLen).tickSizeOuter(0).tickFormat("");
const yAxisLeft = d3.axisLeft(yScale).tickValues(yTickValues).tickSizeInner(-tickLen).tickSizeOuter(0).tickPadding(18).tickFormat(fmtY);
const yAxisRight = d3.axisRight(yScale).tickValues(yTickValues).tickSizeInner(-tickLen).tickSizeOuter(0).tickFormat("");

function styleAxis(g) {
  g.select(".domain").remove();
  g.selectAll(".tick line").attr("stroke", axisColor);
  g.selectAll(".tick text")
    .attr("fill", axisColor)
    .style("font-size", "18px")
    .style("font-family", "'Liberation Sans', Arial, sans-serif");
}

svg.append("g").attr("transform", `translate(0,${height - margin.bottom})`).call(xAxisBottom).call(styleAxis);
svg.append("g").attr("transform", `translate(0,${margin.top})`).call(xAxisTop).call(styleAxis);
svg.append("g").attr("transform", `translate(${margin.left},0)`).call(yAxisLeft).call(styleAxis);
svg.append("g").attr("transform", `translate(${width - margin.right},0)`).call(yAxisRight).call(styleAxis);

svg.append("rect")
  .attr("x", margin.left + 0.5)
  .attr("y", margin.top + 0.5)
  .attr("width", plotW)
  .attr("height", plotH)
  .attr("fill", "none")
  .attr("stroke", axisColor)
  .attr("stroke-width", 1);

// title and labels
svg.append("text")
  .attr("x", 600)
  .attr("y", 24)
  .attr("text-anchor", "middle")
  .attr("font-weight", "bold")
  .style("font-size", "20px")
  .attr("fill", "#000")
  .text("Longitudinal Friction Coefficient vs. % Longitudinal Slip @ 5.68kN 100% Tread");

svg.append("text")
  .attr("x", (margin.left + width - margin.right) / 2)
  .attr("y", 600)
  .attr("text-anchor", "middle")
  .style("font-size", "21.5px")
  .attr("fill", axisColor)
  .text("Longitudinal Slip [%]");

svg.append("text")
  .attr("transform", `translate(27,${(margin.top + height - margin.bottom) / 2}) rotate(-90)`)
  .attr("text-anchor", "middle")
  .style("font-size", "21.5px")
  .attr("fill", axisColor)
  .text("Longitudinal Friction Coefficient");

// legend
const legend = svg.append("g").attr("transform", "translate(1038,245)");
legend.append("rect")
  .attr("x", 0.5).attr("y", 0.5)
  .attr("width", 114).attr("height", 93)
  .attr("fill", "#fff")
  .attr("stroke", axisColor);

const entries = legend.selectAll("g.entry")
  .data(seriesNames)
  .join("g")
  .attr("class", "entry")
  .attr("transform", (d, i) => `translate(0,${14 + i * 21.8})`);

entries.append("line")
  .attr("x1", 5).attr("x2", 45)
  .attr("y1", 0).attr("y2", 0)
  .attr("stroke", (d, i) => seriesColors[i])
  .attr("stroke-width", 1);

entries.append("text")
  .attr("x", 50)
  .attr("y", 6)
  .style("font-size", "16.5px")
  .attr("fill", "#000")
  .text(d => d);
</script>
</body>
</html>
